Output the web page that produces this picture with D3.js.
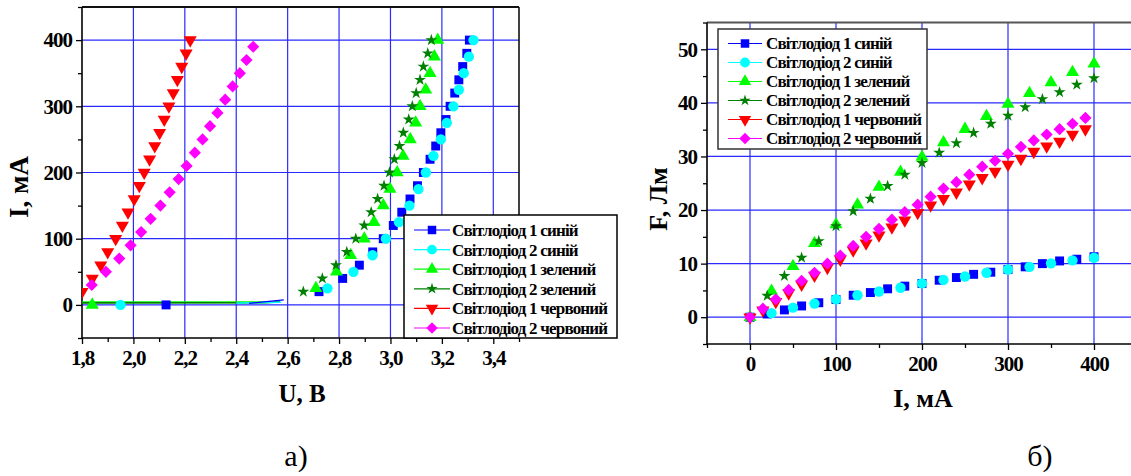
<!DOCTYPE html>
<html>
<head>
<meta charset="utf-8">
<script src="https://cdn.jsdelivr.net/npm/d3@7"></script>
<style>
body { margin: 0; background: #fff; }
text { font-family: "Liberation Serif", "Times New Roman", serif; }
</style>
</head>
<body>
<script>
const width = 1131
const height = 476

// Legend names + colours (same order in both panels)
const seriesNames = [
    "Світлодіод 1 синій", "Світлодіод 2 синій",
    "Світлодіод 1 зелений", "Світлодіод 2 зелений",
    "Світлодіод 1 червоний", "Світлодіод 2 червоний"
];
const seriesColors = ["#0000ff", "#00ffff", "#00ff00", "#008000", "#ff0000", "#ff00ff"];

// ---- а) I(U) ----
const ivBlue1U = [2.127, 2.722, 2.814, 2.879, 2.931, 2.972, 3.011, 3.044, 3.076, 3.105, 3.128, 3.154, 3.176, 3.196, 3.216, 3.232, 3.25, 3.266, 3.281, 3.297, 3.307];
const ivBlue1I = [0, 20, 40, 60, 80, 100, 120, 140, 160, 180, 200, 220, 240, 260, 280, 300, 320, 340, 360, 380, 400];
const ivCyan2U = [1.95, 2.755, 2.856, 2.93, 2.982, 3.033, 3.074, 3.109, 3.138, 3.167, 3.196, 3.219, 3.245, 3.266, 3.285, 3.305, 3.323];
const ivCyan2I = [0, 25, 50, 75, 100, 125, 150, 175, 200, 225, 250, 275, 300, 325, 350, 375, 400];
const ivGreen1U = [1.84, 2.71, 2.79, 2.845, 2.898, 2.936, 2.972, 2.998, 3.026, 3.049, 3.077, 3.098, 3.115, 3.137, 3.154, 3.171, 3.184];
const ivGreen1I = [0, 25, 50, 75, 100, 125, 150, 175, 200, 225, 250, 275, 300, 325, 350, 375, 400];
const ivGreen2U = [2.661, 2.735, 2.788, 2.83, 2.865, 2.898, 2.925, 2.95, 2.975, 2.996, 3.015, 3.035, 3.05, 3.071, 3.085, 3.10, 3.115, 3.128, 3.145, 3.159];
const ivGreen2I = [20, 40, 60, 80, 100, 120, 140, 160, 180, 200, 220, 240, 260, 280, 300, 320, 340, 360, 380, 400];
const ivRed1U = [1.80, 1.84, 1.873, 1.90, 1.931, 1.957, 1.979, 2.003, 2.023, 2.042, 2.063, 2.083, 2.102, 2.12, 2.138, 2.155, 2.171, 2.188, 2.205, 2.221];
const ivRed1I = [20, 40, 60, 80, 100, 120, 140, 160, 180, 200, 220, 240, 260, 280, 300, 320, 340, 360, 380, 400];
const ivMag2U = [1.838, 1.893, 1.945, 1.989, 2.030, 2.067, 2.105, 2.141, 2.176, 2.207, 2.239, 2.269, 2.298, 2.327, 2.357, 2.386, 2.414, 2.44, 2.466];
const ivMag2I = [30, 50, 70, 90, 110, 130, 150, 170, 190, 210, 230, 250, 270, 290, 310, 330, 350, 370, 390];

// low-current traces (line only, near I = 0)
const trBlue1U = [2.45, 2.585], trBlue1I = [2.4, 7.5];
const trCyan2U = [2.40, 2.575], trCyan2I = [2.8, 4.0];
const trGreen1U = [1.80, 2.53], trGreen1I = [3.9, 4.1];
const trGreen2U = [1.80, 2.50, 2.57], trGreen2I = [3.0, 3.3, 4.5];

const ivXTicks = [1.8, 2.0, 2.2, 2.4, 2.6, 2.8, 3.0, 3.2, 3.4];
const ivXMinor = [1.9, 2.1, 2.3, 2.5, 2.7, 2.9, 3.1, 3.3, 3.5];
const ivYTicks = [0, 100, 200, 300, 400];
const ivYMinor = [-50, 50, 150, 250, 350, 450];

// ---- б) F(I) ----
const lfBlue1I = [0, 20, 40, 60, 80, 100, 120, 140, 160, 180, 200, 220, 240, 260, 280, 300, 320, 340, 360, 380, 400];
const lfBlue1F = [0, 0.6, 1.36, 2.1, 2.7, 3.3, 4.1, 4.6, 5.3, 5.8, 6.3, 6.9, 7.4, 8.0, 8.4, 8.9, 9.4, 10.0, 10.5, 10.8, 11.3];
const lfCyan2I = [0, 25, 50, 75, 100, 125, 150, 175, 200, 225, 250, 275, 300, 325, 350, 375, 400];
const lfCyan2F = [0, 0.75, 1.8, 2.55, 3.35, 4.1, 4.8, 5.5, 6.3, 6.95, 7.6, 8.3, 8.9, 9.4, 10.05, 10.6, 11.1];
const lfGreen1I = [0, 25, 50, 75, 100, 125, 150, 175, 200, 225, 250, 275, 300, 325, 350, 375, 400];
const lfGreen1F = [0, 4.9, 9.5, 13.8, 17.3, 21.0, 24.3, 27.1, 29.9, 32.6, 35.1, 37.5, 39.8, 41.8, 43.8, 45.7, 47.3];
const lfGreen2I = [0, 20, 40, 60, 80, 100, 120, 140, 160, 180, 200, 220, 240, 260, 280, 300, 320, 340, 360, 380, 400];
const lfGreen2F = [0, 4.0, 7.7, 11.1, 14.2, 17.0, 19.8, 22.1, 24.5, 26.6, 28.8, 30.7, 32.5, 34.4, 36.1, 37.6, 39.2, 40.7, 42.0, 43.4, 44.6];
const lfRed1I = [0, 15, 30, 45, 60, 75, 90, 105, 120, 135, 150, 165, 180, 195, 210, 225, 240, 255, 270, 285, 300, 315, 330, 345, 360, 375, 390];
const lfRed1F = [0, 1.3, 2.9, 4.5, 6.1, 7.8, 9.25, 10.8, 12.5, 13.8, 15.3, 16.8, 18.1, 19.5, 20.9, 22.1, 23.3, 24.8, 26.0, 27.2, 28.5, 29.6, 30.9, 31.9, 32.8, 34.1, 35.1];
const lfMag2I = [0, 15, 30, 45, 60, 75, 90, 105, 120, 135, 150, 165, 180, 195, 210, 225, 240, 255, 270, 285, 300, 315, 330, 345, 360, 375, 390];
const lfMag2F = [0, 1.6, 3.35, 5.1, 6.8, 8.3, 10.0, 11.5, 13.3, 15.0, 16.5, 18.2, 19.6, 21.0, 22.5, 24.0, 25.2, 26.6, 28.1, 29.2, 30.5, 31.8, 33.0, 34.1, 35.1, 36.1, 37.2];

const lfXTicks = [0, 100, 200, 300, 400];
const lfXMinor = [-50, 50, 150, 250, 350, 450];
const lfYTicks = [0, 10, 20, 30, 40, 50];
const lfYMinor = [-5, 5, 15, 25, 35, 45, 55];


const svg = d3.select("body").append("svg")
    .attr("width", width)
    .attr("height", height);

svg.append("rect").attr("width", width).attr("height", height).attr("fill", "#fff");

// marker shapes: square, circle, triangle, star, down triangle, diamond
const markerTypes = [d3.symbolSquare, d3.symbolCircle, d3.symbolTriangle, d3.symbolStar, d3.symbolTriangle, d3.symbolSquare];
const markerRotate = [0, 0, 0, 0, 180, 45];
const markerSize = [80, 84, 74, 44, 74, 74];

function markerPath(k, scale) {
    return d3.symbol().type(markerTypes[k]).size(markerSize[k] * scale)();
}

function zip(a, b) {
    return a.map((v, i) => [v, b[i]]);
}

function panel(cfg) {
    const x = d3.scaleLinear().domain(cfg.xDomain).range([cfg.left, cfg.right]);
    const y = d3.scaleLinear().domain(cfg.yDomain).range([cfg.bottom, cfg.top]);
    const g = svg.append("g");

    g.append("clipPath").attr("id", cfg.id)
      .append("rect")
        .attr("x", cfg.left).attr("y", cfg.top)
        .attr("width", cfg.right - cfg.left).attr("height", cfg.bottom - cfg.top);

    // grid
    const grid = g.append("g").attr("stroke", "#2a2aff").attr("stroke-width", 1.2);
    grid.selectAll(".gx").data(cfg.xTicks.filter(v => v > cfg.xDomain[0])).join("line")
        .attr("x1", d => x(d)).attr("x2", d => x(d))
        .attr("y1", cfg.top).attr("y2", cfg.bottom);
    grid.selectAll(".gy").data(cfg.yTicks).join("line")
        .attr("x1", cfg.left).attr("x2", cfg.right)
        .attr("y1", d => y(d)).attr("y2", d => y(d));

    // axes
    const fmt = cfg.xFormat;
    const ax = g.append("g").attr("transform", `translate(0,${cfg.bottom})`)
        .call(d3.axisBottom(x).tickValues(cfg.xTicks).tickSize(6).tickPadding(6).tickFormat(fmt));
    const axm = g.append("g").attr("transform", `translate(0,${cfg.bottom})`)
        .call(d3.axisBottom(x).tickValues(cfg.xMinor).tickSize(4).tickFormat(""));
    const ay = g.append("g").attr("transform", `translate(${cfg.left},0)`)
        .call(d3.axisLeft(y).tickValues(cfg.yTicks).tickSize(6).tickPadding(4));
    const aym = g.append("g").attr("transform", `translate(${cfg.left},0)`)
        .call(d3.axisLeft(y).tickValues(cfg.yMinor).tickSize(4).tickFormat(""));
    [ax, axm, ay, aym].forEach(a => {
        a.select(".domain").remove();
        a.selectAll("line").attr("stroke", "#000").attr("stroke-width", 1.3);
        a.selectAll("text")
            .attr("font-family", "Liberation Serif, serif")
            .attr("font-size", 21)
            .attr("font-weight", "bold")
            .attr("letter-spacing", "-1px")
            .attr("fill", "#000");
    });

    // frame
    g.append("line").attr("x1", cfg.left).attr("x2", cfg.right).attr("y1", cfg.top).attr("y2", cfg.top)
        .attr("stroke", cfg.topColor).attr("stroke-width", 2);
    g.append("line").attr("x1", cfg.right).attr("x2", cfg.right).attr("y1", cfg.top).attr("y2", cfg.bottom)
        .attr("stroke", "#111").attr("stroke-width", 1.6);
    g.append("line").attr("x1", cfg.left).attr("x2", cfg.right).attr("y1", cfg.bottom).attr("y2", cfg.bottom)
        .attr("stroke", "#000").attr("stroke-width", 1.6);
    g.append("line").attr("x1", cfg.left).attr("x2", cfg.left).attr("y1", cfg.top).attr("y2", cfg.bottom)
        .attr("stroke", "#000").attr("stroke-width", 1.6);

    const plot = g.append("g").attr("clip-path", `url(#${cfg.id})`);
    return { x, y, g, plot };
}

function drawMarkers(p, k, pts) {
    p.plot.append("g").selectAll("path").data(pts).join("path")
        .attr("d", markerPath(k, 1))
        .attr("transform", d => `translate(${p.x(d[0])},${p.y(d[1])}) rotate(${markerRotate[k]})`)
        .attr("fill", seriesColors[k]);
}

function drawTrace(p, k, pts, w) {
    p.plot.append("path").datum(pts)
        .attr("d", d3.line().x(d => p.x(d[0])).y(d => p.y(d[1])))
        .attr("fill", "none")
        .attr("stroke", seriesColors[k])
        .attr("stroke-width", w);
}

function legend(box, rows) {
    const lg = svg.append("g");
    lg.append("rect")
        .attr("x", box.x).attr("y", box.y).attr("width", box.w).attr("height", box.h)
        .attr("fill", "#fff").attr("stroke", box.stroke).attr("stroke-width", 1.5);
    seriesNames.forEach((name, k) => {
        const cy = rows.y0 + k * rows.step;
        lg.append("line")
            .attr("x1", rows.lx1).attr("x2", rows.lx2).attr("y1", cy).attr("y2", cy)
            .attr("stroke", seriesColors[k]).attr("stroke-width", 1.2);
        lg.append("path")
            .attr("d", markerPath(k, 0.9))
            .attr("transform", `translate(${(rows.lx1 + rows.lx2) / 2},${cy}) rotate(${markerRotate[k]})`)
            .attr("fill", seriesColors[k]);
        lg.append("text")
            .attr("x", rows.tx).attr("y", cy).attr("dy", "0.35em")
            .attr("font-size", 17).attr("font-weight", "bold")
            .attr("letter-spacing", "-0.8px")
            .text(name);
    });
}

// ---------- panel а ----------
const commaFmt = d => d3.format(".1f")(d).replace(".", ",");

const pa = panel({
    id: "clipA", left: 82, right: 519, top: 7, bottom: 338,
    xDomain: [1.8, 3.5], yDomain: [-50, 450],
    xTicks: ivXTicks, xMinor: ivXMinor, yTicks: ivYTicks, yMinor: ivYMinor,
    xFormat: commaFmt, topColor: "#111"
});

drawTrace(pa, 2, zip(trGreen1U, trGreen1I), 2);
drawTrace(pa, 3, zip(trGreen2U, trGreen2I), 1.6);
drawTrace(pa, 1, zip(trCyan2U, trCyan2I), 1.4);
drawTrace(pa, 0, zip(trBlue1U, trBlue1I), 1.2);

drawMarkers(pa, 0, zip(ivBlue1U, ivBlue1I));
drawMarkers(pa, 1, zip(ivCyan2U, ivCyan2I));
drawMarkers(pa, 2, zip(ivGreen1U, ivGreen1I));
drawMarkers(pa, 3, zip(ivGreen2U, ivGreen2I));
drawMarkers(pa, 4, zip(ivRed1U, ivRed1I));
drawMarkers(pa, 5, zip(ivMag2U, ivMag2I));

svg.append("text")
    .attr("transform", "translate(28,187) rotate(-90)")
    .attr("text-anchor", "middle")
    .attr("font-size", 27).attr("font-weight", "bold")
    .text("I, мА");
svg.append("text")
    .attr("x", 302).attr("y", 402)
    .attr("text-anchor", "middle")
    .attr("font-size", 25).attr("font-weight", "bold")
    .text("U, B");

legend({ x: 404, y: 215, w: 213, h: 123, stroke: "#000" },
       { y0: 230, step: 19.6, lx1: 414, lx2: 450, tx: 452 });

// ---------- panel б ----------
const pb = panel({
    id: "clipB", left: 707, right: 1137, top: 22.5, bottom: 344,
    xDomain: [-50, 450], yDomain: [-5, 55],
    xTicks: lfXTicks, xMinor: lfXMinor, yTicks: lfYTicks, yMinor: lfYMinor,
    xFormat: d3.format("d"), topColor: "#555"
});

drawMarkers(pb, 0, zip(lfBlue1I, lfBlue1F));
drawMarkers(pb, 1, zip(lfCyan2I, lfCyan2F));
drawMarkers(pb, 2, zip(lfGreen1I, lfGreen1F));
drawMarkers(pb, 3, zip(lfGreen2I, lfGreen2F));
drawMarkers(pb, 4, zip(lfRed1I, lfRed1F));
drawMarkers(pb, 5, zip(lfMag2I, lfMag2F));

svg.append("text")
    .attr("transform", "translate(667,199) rotate(-90)")
    .attr("text-anchor", "middle")
    .attr("font-size", 26).attr("font-weight", "bold")
    .text("F, Лм");
svg.append("text")
    .attr("x", 923).attr("y", 407)
    .attr("text-anchor", "middle")
    .attr("font-size", 26).attr("font-weight", "bold")
    .text("I, мА");

legend({ x: 718, y: 29, w: 209, h: 120, stroke: "#333" },
       { y0: 43.5, step: 19, lx1: 728, lx2: 762, tx: 766 });

// captions
svg.append("text").attr("x", 296).attr("y", 466).attr("text-anchor", "middle")
    .attr("font-size", 30).text("а)");
svg.append("text").attr("x", 1040).attr("y", 466).attr("text-anchor", "middle")
    .attr("font-size", 30).text("б)");
</script>
</body>
</html>
